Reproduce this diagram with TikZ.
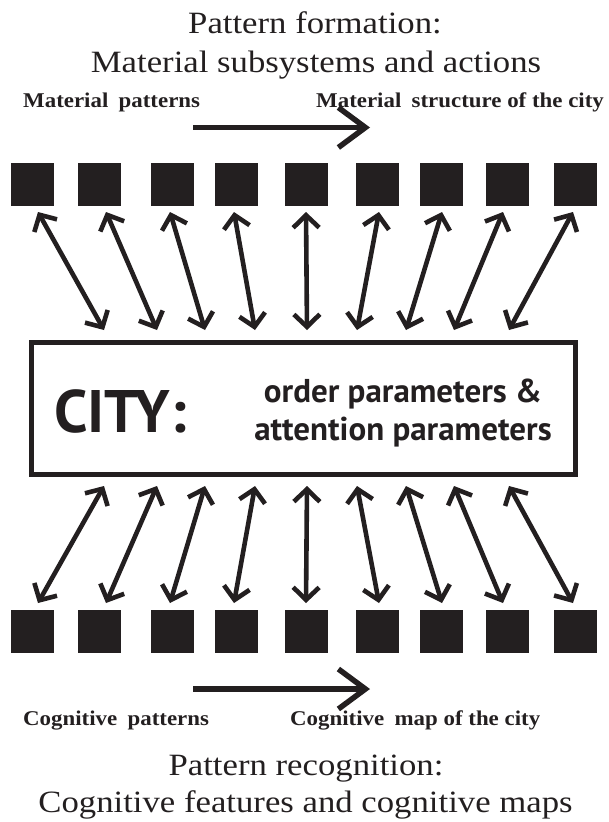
\documentclass[tikz,border=0pt]{standalone}
\usepackage{fontspec}
\setmainfont{Liberation Serif}
\newfontfamily\ttlfont[FakeStretch=1.12]{Liberation Serif}
\newfontfamily\labfont[FakeStretch=1.09]{Liberation Serif}
\newfontfamily\cityfont{PT Sans}
\usetikzlibrary{arrows.meta}
\definecolor{ink}{HTML}{231F20}
\begin{document}
\begin{tikzpicture}[x=1pt,y=-1pt,
  sq/.style={fill=ink, minimum width=43pt, minimum height=43pt, inner sep=0pt},
  link/.style={draw=ink, line width=4.6pt, {Straight Barb[length=12.5pt,width=26pt]}-{Straight Barb[length=12.5pt,width=26pt]}},
  flow/.style={draw=ink, line width=5.5pt, -{Straight Barb[length=27pt,width=40pt]}},
  ttl/.style={text=ink, font=\ttlfont\fontsize{31}{36}\selectfont, anchor=base, inner sep=0pt},
  lab/.style={text=ink, font=\labfont\fontsize{21}{24}\selectfont\bfseries, anchor=base west, inner sep=0pt}]
\useasboundingbox (0,0) rectangle (609,822);

% titles
\node[ttl] (t1txt) at (315,33) {Pattern formation:};
\node[ttl] (t2txt) at (316,72) {Material subsystems and actions};
\node[lab] (mp) at (23,107) {Material\hspace{0.22em} patterns};
\node[lab] (ms) at (316,107) {Material\hspace{0.22em} structure of the city};

\coordinate (fa) at (193,127.5);
\coordinate (fb) at (370,127.5);
\draw[flow] (fa) -- (fb);

% squares
\foreach \i/\x in {1/32,2/99,3/172,4/236,5/306,6/377,7/441,8/507,9/575} {
  \node[sq] (t\i) at (\x,184.5) {};
  \node[sq] (b\i) at (\x,631.5) {};
}

% city box
\node[draw=ink, line width=5.5pt, minimum width=544pt, minimum height=132pt, inner sep=0pt] (city) at (303.5,408.5) {};
\node[text=ink, font=\cityfont\bfseries\fontsize{60}{66}\selectfont, anchor=base west, inner sep=0pt] (cityword) at (54,432) {CITY:};
\node[text=ink, font=\cityfont\bfseries\fontsize{33}{38}\selectfont, anchor=base, inner sep=0pt] (par1) at (403,402) {order parameters \&};
\node[text=ink, font=\cityfont\bfseries\fontsize{33}{38}\selectfont, anchor=base, inner sep=0pt] (par2) at (403,440) {attention parameters};

% connectors
\foreach \i/\xa/\xb in {1/38/104,2/106/157,3/170/205,4/234/255,5/306/307,6/379/357,7/442/406,8/503/454,9/573/509} {
  \coordinate (ua\i) at (\xa,212);
  \coordinate (ub\i) at (\xb,330);
  \draw[link] (ua\i) -- (ub\i);
  \coordinate (la\i) at (\xb,486);
  \coordinate (lb\i) at (\xa,603);
  \draw[link] (la\i) -- (lb\i);
}

\coordinate (ga) at (193,689);
\coordinate (gb) at (370,689);
\draw[flow] (ga) -- (gb);

\node[lab] (cp) at (23,725) {Cognitive\hspace{0.22em} patterns};
\node[lab] (cm) at (290,725) {Cognitive\hspace{0.22em} map of the city};
\node[ttl] (b1txt) at (306,775) {Pattern recognition:};
\node[ttl] (b2txt) at (305.5,812) {Cognitive features and cognitive maps};
\end{tikzpicture}
\end{document}
